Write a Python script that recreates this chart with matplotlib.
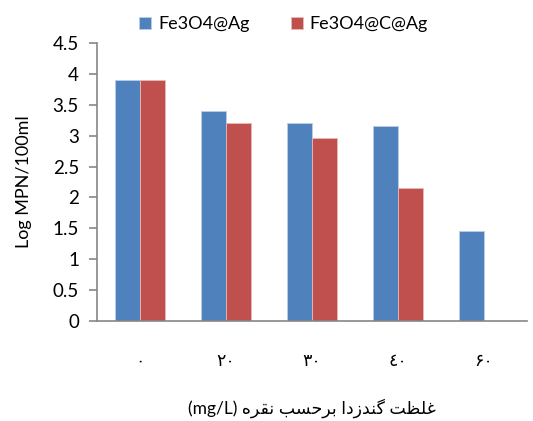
import matplotlib
matplotlib.use('Agg')
import matplotlib.pyplot as plt
import numpy as np

plt.rcParams['font.family'] = ['Lato', 'DejaVu Sans']

# x categories (Persian digits) and series values
categories = ['\u06f0', '\u06f2\u06f0', '\u06f3\u06f0', '\u0664\u06f0', '\u06f6\u06f0']
fe3o4_ag = [3.9, 3.4, 3.2, 3.15, 1.45]
fe3o4_c_ag = [3.9, 3.2, 2.97, 2.15, 0]
series_names = ['Fe3O4@Ag', 'Fe3O4@C@Ag']

# x title written in visual order with Arabic presentation forms
w_noghre = '\uFEE9\uFEAE\uFED8\uFEE7'
w_barhasb = '\uFE90\uFEB4\uFEA3\uFEAE\uFE91'
w_gandzoda = '\uFE8D\uFEA9\uFEAF\uFEAA\uFEE8\uFB94'
w_gholzat = '\uFE96\uFEC8\uFEE0\uFECF'
xtitle = '(mg/L) ' + ' '.join([w_noghre, w_barhasb, w_gandzoda, w_gholzat])

blue = '#4F81BD'
red = '#C0504D'
axis_gray = '#868686'

fig = plt.figure(figsize=(5.33, 4.21), dpi=100)
ax = fig.add_axes([97/533, 1 - 321/421, 430/533, 278/421])

x = np.arange(len(categories))
w = 0.285
ax.bar(x - w/2, fe3o4_ag, w, color=blue, edgecolor='#B9CDE5', linewidth=0.6, label=series_names[0])
ax.bar(x + w/2, fe3o4_c_ag, w, color=red, edgecolor='#E6B9B8', linewidth=0.6, label=series_names[1])

ax.set_xlim(-0.5, len(categories) - 0.5)
ax.set_ylim(0, 4.5)
ax.set_yticks(np.arange(0, 4.51, 0.5))
ax.set_yticklabels(['0', '0.5', '1', '1.5', '2', '2.5', '3', '3.5', '4', '4.5'])
ax.set_xticks(x)
ax.set_xticklabels(categories, fontsize=12.5, family=['DejaVu Sans'])

for s in ['top', 'right']:
    ax.spines[s].set_visible(False)
for s in ['left', 'bottom']:
    ax.spines[s].set_color(axis_gray)
    ax.spines[s].set_linewidth(1.2)
ax.tick_params(axis='y', length=6, color=axis_gray, width=1.2, labelsize=13.5, pad=7)
ax.tick_params(axis='x', length=0, pad=22)

ax.set_ylabel('Log MPN/100ml', fontsize=13, labelpad=15)
ax.set_xlabel(xtitle, fontsize=12.5, labelpad=21, family=['Lato', 'DejaVu Sans'])

fig.legend(loc='upper center', bbox_to_anchor=(0.532, 1.0), ncol=2, frameon=False,
           fontsize=13, handlelength=0.65, handleheight=0.65, handletextpad=0.4,
           columnspacing=2.3)

fig.savefig('out.png', dpi=100)
